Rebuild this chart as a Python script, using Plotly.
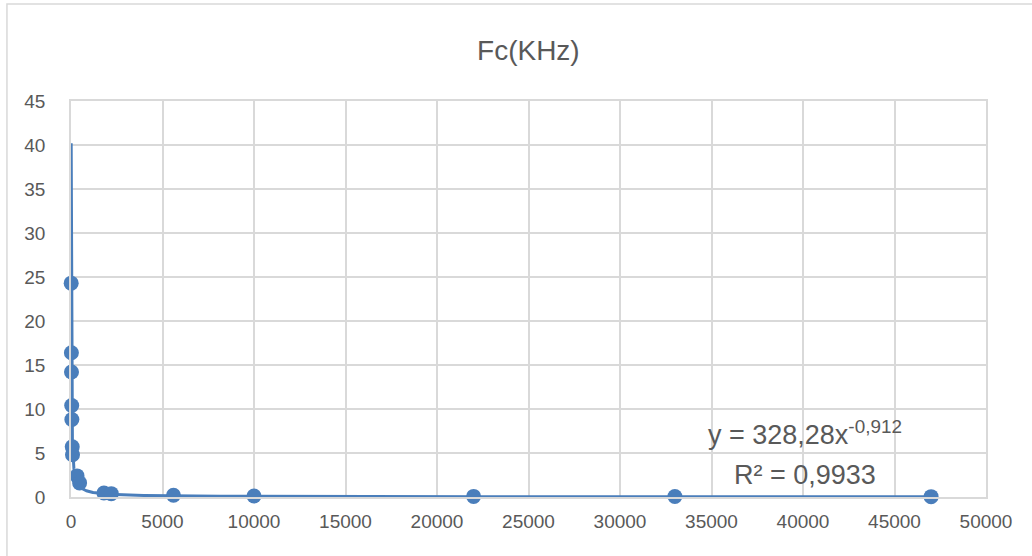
import numpy as np
import plotly.graph_objects as go

# Data
x_vals = [10, 22, 27, 39, 47, 68, 82, 330, 470, 1800, 2200, 5600, 10000, 22000, 33000, 47000]
fc_khz = [24.3, 16.4, 14.2, 10.4, 8.8, 5.7, 4.8, 2.4, 1.6, 0.45, 0.38, 0.2, 0.12, 0.07, 0.05, 0.04]

# Power trendline coefficients shown on the chart
trend_a = 328.28
trend_b = -0.912
r_squared = "0,9933"

x_ticks = list(range(0, 50001, 5000))
y_ticks = list(range(0, 46, 5))

BLUE = "#4a7ebb"
GRID = "#d9d9d9"
TXT = "#595959"
FONT = "Liberation Sans, Arial, sans-serif"

trend_x = np.geomspace(min(x_vals), max(x_vals), 600)
trend_y = trend_a * trend_x ** trend_b

fig = go.Figure()
fig.add_trace(go.Scatter(x=trend_x, y=trend_y, mode="lines",
                         line=dict(color=BLUE, width=3), hoverinfo="skip",
                         showlegend=False, cliponaxis=False))
fig.add_trace(go.Scatter(x=x_vals, y=fc_khz, mode="markers",
                         marker=dict(color=BLUE, size=15), showlegend=False,
                         cliponaxis=False))

fig.update_layout(
    width=1032, height=556,
    margin=dict(l=71, r=46, t=101, b=59, autoexpand=False),
    paper_bgcolor="white", plot_bgcolor="white",
    font=dict(family=FONT, color=TXT, size=19),
    title=dict(text="Fc(KHz)", x=0.512, xanchor="center", y=0.91, yanchor="middle",
               font=dict(family=FONT, size=28, color=TXT)),
    xaxis=dict(range=[0, 50000], tickvals=x_ticks, ticktext=[str(v) for v in x_ticks],
               showgrid=True, gridcolor=GRID, gridwidth=1.5, zeroline=False,
               showline=True, linecolor=GRID, linewidth=1.5, mirror=True,
               ticks="", ticklabelstandoff=6, automargin=False,
               tickfont=dict(size=19, color=TXT)),
    yaxis=dict(range=[0, 45], tickvals=y_ticks, ticktext=[str(v) for v in y_ticks],
               showgrid=True, gridcolor=GRID, gridwidth=1.5, zeroline=False,
               showline=True, linecolor=GRID, linewidth=1.5, mirror=True,
               ticks="", ticklabelstandoff=20, automargin=False,
               tickfont=dict(size=19, color=TXT)),
    annotations=[
        dict(x=40100, y=7.3, xref="x", yref="y",
             text=f"y = {str(trend_a).replace('.', ',')}x<sup>{str(trend_b).replace('.', ',')}</sup>",
             showarrow=False, font=dict(family=FONT, size=27, color=TXT),
             xanchor="center", yanchor="middle"),
        dict(x=40100, y=2.5, xref="x", yref="y",
             text=f"R² = {r_squared}",
             showarrow=False, font=dict(family=FONT, size=27, color=TXT),
             xanchor="center", yanchor="middle"),
    ],
    shapes=[dict(type="rect", xref="paper", yref="paper",
                 x0=-0.07, x1=1.2, y0=-0.3, y1=(497 - 4) / 396,
                 line=dict(color=GRID, width=1.5), fillcolor="rgba(0,0,0,0)", layer="below")],
)

fig.write_html("out.html", config={"displayModeBar": False},
               post_script="document.body.style.margin='0';document.body.style.overflow='hidden';")
